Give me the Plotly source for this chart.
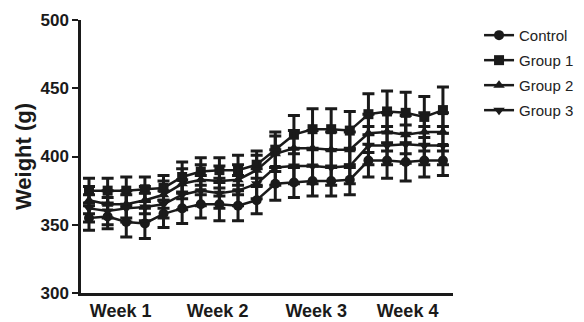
import plotly.graph_objects as go

days = list(range(20))
week_ticks = [1.7, 6.9, 12.2, 17.1]
week_labels = ["Week 1", "Week 2", "Week 3", "Week 4"]

control = [355, 356, 352, 351, 358, 362, 365, 365, 364, 368, 380, 381, 382, 382, 383, 397, 397, 396, 397, 397]
group1 = [375, 375, 375, 376, 377, 385, 389, 390, 390, 394, 405, 416, 420, 420, 419, 431, 433, 432, 429, 434]
group2 = [368, 365, 365, 368, 372, 380, 383, 382, 383, 390, 402, 406, 406, 405, 405, 417, 418, 416, 418, 418]
group3 = [362, 360, 362, 363, 365, 372, 375, 373, 375, 380, 392, 393, 393, 392, 393, 408, 408, 409, 408, 408]

control_err = [9, 9, 11, 11, 10, 11, 10, 12, 11, 10, 12, 11, 11, 11, 11, 12, 13, 14, 12, 11]
group1_err = [9, 9, 10, 9, 9, 11, 10, 9, 11, 10, 13, 14, 15, 15, 14, 15, 15, 15, 15, 17]
group2_err = [10, 10, 10, 10, 10, 11, 11, 11, 11, 11, 13, 13, 13, 13, 13, 14, 14, 14, 14, 14]
group3_err = [10, 10, 10, 10, 10, 11, 11, 11, 11, 11, 13, 13, 13, 13, 13, 14, 14, 14, 14, 14]

series = [
    ("Control", control, control_err, "circle"),
    ("Group 1", group1, group1_err, "square"),
    ("Group 2", group2, group2_err, "triangle-up"),
    ("Group 3", group3, group3_err, "triangle-down"),
]

FONT = "Liberation Sans, Arial, sans-serif"
INK = "#1a1a1a"

fig = go.Figure()
for name, vals, errs, sym in series:
    fig.add_trace(go.Scatter(
        x=days, y=vals, name=name, mode="lines+markers",
        legendgroup=name,
        line=dict(color=INK, width=2.5),
        marker=dict(symbol=sym, size=10, color=INK),
        error_y=dict(type="data", array=errs, visible=True, color=INK,
                     thickness=3, width=6),
    ))

fig.update_layout(
    width=576, height=314,
    margin=dict(l=73, r=131, t=12, b=29, autoexpand=False),
    paper_bgcolor="white", plot_bgcolor="white",
    font=dict(family=FONT, color=INK),
    showlegend=True,
    legend=dict(
        x=1.07, xanchor="left", y=1.004, yanchor="top",
        font=dict(size=15, color="#222"),
        tracegroupgap=2.5,
        bgcolor="rgba(0,0,0,0)",
    ),
    xaxis=dict(
        range=[-0.43, 19.54], automargin=False,
        tickmode="array", tickvals=week_ticks, ticktext=week_labels,
        ticks="", showgrid=False, zeroline=False,
        showline=True, linecolor=INK, linewidth=2.5,
        tickfont=dict(size=18, family=FONT, weight="bold"),
    ),
    yaxis=dict(
        range=[300, 500], automargin=False,
        tickvals=[300, 350, 400, 450, 500],
        ticks="outside", ticklen=6, tickwidth=2, tickcolor=INK,
        showgrid=False, zeroline=False,
        showline=True, linecolor=INK, linewidth=2.5,
        tickfont=dict(size=17, family=FONT, weight="bold"),
        title=dict(text="Weight (g)", standoff=3,
                   font=dict(size=22, family=FONT, weight="bold")),
    ),
)

fig.write_html("out.html")
